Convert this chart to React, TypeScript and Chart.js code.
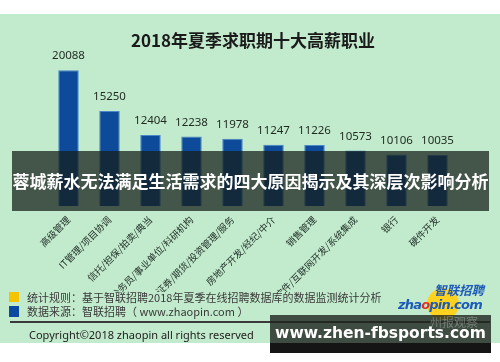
import React, { useEffect, useRef } from "react";
import { Chart, registerables } from "chart.js";

Chart.register(...registerables);

const categories = [
  "高级管理",
  "IT管理/项目协调",
  "信托/担保/拍卖/典当",
  "公务员/事业单位/科研机构",
  "证券/期货/投资管理/服务",
  "房地产开发/经纪/中介",
  "销售管理",
  "软件/互联网开发/系统集成",
  "银行",
  "硬件开发",
];
const salaries = [20088, 15250, 12404, 12238, 11978, 11247, 11226, 10573, 10106, 10035];
const chartTitle = "2018年夏季求职期十大高薪职业";
const bannerText = "蓉城薪水无法满足生活需求的四大原因揭示及其深层次影响分析";
const legendRule = "统计规则：基于智联招聘2018年夏季在线招聘数据库的数据监测统计分析";
const legendSource = "数据来源：智联招聘（ www.zhaopin.com ）";
const copyright = "Copyright©2018 zhaopin all rights reserved";
const watermark = "www.zhen-fbsports.com";

const FONT = "'Noto Sans CJK SC', 'Noto Sans', sans-serif";

const valueLabels = {
  id: "valueLabels",
  afterDatasetsDraw(chart: any) {
    const ctx = chart.ctx;
    const meta = chart.getDatasetMeta(0);
    ctx.save();
    ctx.font = `11.5px 'Noto Sans', 'Noto Sans CJK SC', sans-serif`;
    ctx.fillStyle = "#1f2a21";
    ctx.textAlign = "center";
    ctx.textBaseline = "middle";
    meta.data.forEach((bar: any, i: number) => {
      ctx.fillText(String(chart.data.datasets[0].data[i]), bar.x, bar.y - 14);
    });
    ctx.restore();
  },
};

export default function App() {
  const ref = useRef<HTMLCanvasElement | null>(null);
  useEffect(() => {
    if (!ref.current) return;
    Chart.defaults.font.family = FONT;
    const chart = new Chart(ref.current, {
      type: "bar",
      data: {
        labels: categories,
        datasets: [
          {
            data: salaries,
            backgroundColor: "#0E4A9A",
            borderColor: "#4A86C8",
            borderWidth: 1,
            barPercentage: 0.5,
            categoryPercentage: 1,
          },
        ],
      },
      options: {
        responsive: false,
        animation: false,
        layout: { padding: { left: 48, right: 42, top: 0, bottom: 0 } },
        plugins: {
          legend: { display: false },
          tooltip: { enabled: false },
          title: {
            display: true,
            text: chartTitle,
            color: "#1a1a1a",
            font: { size: 17, weight: "bold", family: FONT },
            padding: { top: 16, bottom: 3.6 },
          },
        },
        scales: {
          y: { display: false, min: 4000, max: 22000 },
          x: {
            grid: { display: false },
            border: { display: false },
            ticks: {
              color: "#22322a",
              font: { size: 9.5, family: FONT },
              maxRotation: 45,
              minRotation: 45,
              padding: 0,
              autoSkip: false,
            },
            afterFit(scale: any) {
              scale.height = 86;
            },
          },
        },
      },
      plugins: [valueLabels],
    });
    return () => chart.destroy();
  }, []);

  return (
    <div
      style={{
        position: "fixed",
        left: 0,
        top: 0,
        width: 500,
        height: 362,
        background: "#ffffff",
        overflow: "hidden",
        fontFamily: FONT,
      }}
    >
      <div style={{ position: "absolute", left: 0, top: 14, width: 500, height: 329, background: "#C2EACC" }} />
      <canvas
        ref={ref}
        width={500}
        height={278}
        style={{ position: "absolute", left: 0, top: 14, width: 500, height: 278 }}
      />
      {/* banner */}
      <div
        style={{
          position: "absolute",
          left: 12,
          top: 151,
          width: 477,
          height: 60,
          background: "rgba(20,30,25,0.73)",
          color: "#ffffff",
          fontWeight: "bold",
          fontSize: 17,
          lineHeight: "60px",
          textAlign: "center",
          whiteSpace: "nowrap",
        }}
      >
        {bannerText}
      </div>
      {/* legend */}
      <div style={{ position: "absolute", left: 9, top: 292, width: 10, height: 10, background: "#F5C400" }} />
      <div
        style={{
          position: "absolute",
          left: 27,
          top: 289,
          fontSize: 11,
          lineHeight: "16px",
          color: "#3a3a3a",
          whiteSpace: "nowrap",
        }}
      >
        {legendRule}
      </div>
      <div style={{ position: "absolute", left: 9, top: 306, width: 10, height: 11, background: "#0B4AA0" }} />
      <div
        style={{
          position: "absolute",
          left: 27,
          top: 303,
          fontSize: 11,
          lineHeight: "16px",
          color: "#3a3a3a",
          whiteSpace: "nowrap",
        }}
      >
        {legendSource}
      </div>
      <div style={{ position: "absolute", left: 10, top: 321, width: 480, height: 1.5, background: "#3a3a3a" }} />
      <div
        style={{
          position: "absolute",
          left: 29,
          top: 327,
          fontSize: 11,
          lineHeight: "16px",
          color: "#222",
          whiteSpace: "nowrap",
          fontFamily: "'Noto Sans', sans-serif",
        }}
      >
        {copyright}
      </div>
      {/* logo */}
      <div
        style={{
          position: "absolute",
          left: 427,
          top: 288,
          width: 32,
          height: 32,
          borderRadius: "50%",
          background: "#FFD21F",
        }}
      />
      <div
        style={{
          position: "absolute",
          left: 434,
          top: 282,
          fontSize: 12.5,
          lineHeight: "16px",
          color: "#1E5BB8",
          fontWeight: "bold",
          fontStyle: "italic",
          whiteSpace: "nowrap",
        }}
      >
        智联招聘
      </div>
      <div
        style={{
          position: "absolute",
          left: 398,
          top: 297,
          fontSize: 13,
          lineHeight: "16px",
          color: "#1E5BB8",
          fontWeight: "bold",
          fontStyle: "italic",
          whiteSpace: "nowrap",
          fontFamily: "'DejaVu Sans', sans-serif",
          letterSpacing: -0.8,
        }}
      >
        zha<span style={{ color: "#E0301E" }}>o</span>pin.com
      </div>
      {/* watermark box */}
      <div style={{ position: "absolute", left: 270, top: 315, width: 221, height: 28, background: "rgba(30,36,30,0.8)" }} />
      <div style={{ position: "absolute", left: 270, top: 343, width: 221, height: 10, background: "#151515" }} />
      <div
        style={{
          position: "absolute",
          left: 430,
          top: 315,
          fontSize: 12,
          lineHeight: "14px",
          color: "rgba(200,205,200,0.4)",
          whiteSpace: "nowrap",
        }}
      >
        州报观察
      </div>
      <div
        style={{
          position: "absolute",
          left: 270,
          top: 323,
          width: 221,
          textAlign: "center",
          fontSize: 15.5,
          lineHeight: "20px",
          fontWeight: "bold",
          color: "#ffffff",
          whiteSpace: "nowrap",
          fontFamily: "'DejaVu Sans', sans-serif",
        }}
      >
        {watermark}
      </div>
    </div>
  );
}
